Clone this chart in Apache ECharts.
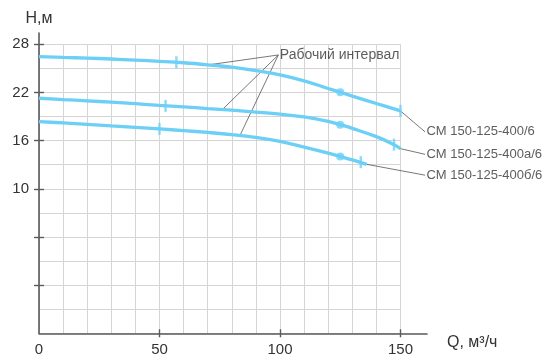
<!DOCTYPE html>
<html><head><meta charset="utf-8">
<script src="https://cdn.jsdelivr.net/npm/echarts@6/dist/echarts.min.js"></script>
<style>html,body{margin:0;padding:0;background:#fff}#c{width:555px;height:361px}</style>
</head><body><div id="c"></div><script>
// Curve data (Q, м3/ч -> H, м)
const curve1Q = [0, 10, 20, 30, 40, 50, 60, 70, 80, 90, 100, 110, 120, 125, 130, 140, 150];
const curve1H = [26.46, 26.37, 26.28, 26.17, 26.03, 25.88, 25.7, 25.45, 25.15, 24.72, 24.2, 23.45, 22.5, 22.03, 21.55, 20.62, 19.7];
const curve2Q = [0, 10, 20, 30, 40, 50, 60, 70, 80, 90, 100, 110, 120, 125, 130, 140, 147.3, 150];
const curve2H = [21.28, 21.12, 20.96, 20.79, 20.6, 20.38, 20.2, 20.0, 19.8, 19.56, 19.3, 18.95, 18.4, 17.98, 17.52, 16.5, 15.5, 15.0];
const curve3Q = [0, 10, 20, 30, 40, 50, 60, 70, 80, 90, 100, 110, 120, 125, 130, 136];
const curve3H = [18.37, 18.2, 18.02, 17.84, 17.66, 17.46, 17.25, 17.02, 16.75, 16.4, 15.9, 15.2, 14.45, 14.03, 13.6, 13.05];
const seriesNames = ['СМ 150-125-400/6', 'СМ 150-125-400а/6', 'СМ 150-125-400б/6'];
// Working interval limits (start/end)
const intervalQ = [[57, 150], [52.5, 147.3], [50, 133.5]];
const intervalH = [[25.76, 19.7], [20.33, 15.5], [17.46, 13.32]];
// Nominal points
const nominalQ = [125, 125, 125];
const nominalH = [22.03, 17.98, 14.03];
// Annotation "Рабочий интервал"
const annotationText = 'Рабочий интервал';
const annotationAnchor = [99.3, 26.67];
const annotationTargetsQ = [70.1, 76.1, 83.4];
const annotationTargetsH = [25.43, 19.88, 16.65];
// Series name labels: leader start (curve end) and label position
const leaderStartQ = [150, 150, 136];
const leaderStartH = [19.7, 15.0, 13.05];
const labelQ = [160.2, 160.2, 160.2];
const labelH = [17.1, 14.3, 11.7];
// Axes ticks/labels
const xTickLabels = [0, 50, 100, 150];
const xTicks = [50, 100, 150];
const yTickLabels = [10, 16, 22, 28];
const yTicks = [28, 22, 16, 10, 4, -2];

const FONT = 'Arial, "Liberation Sans", sans-serif';
const BLUE = '#6ccff6';
const AXIS = '#5a5a5a';
const TXT = '#333';

const curves = [[curve1Q, curve1H], [curve2Q, curve2H], [curve3Q, curve3H]];

const series = [];
curves.forEach(([q, h], i) => {
  series.push({
    type: 'line', name: seriesNames[i], xAxisIndex: 0, yAxisIndex: 0,
    data: q.map((v, k) => [v, h[k]]), smooth: 0.4, showSymbol: false, symbol: 'none',
    lineStyle: {color: BLUE, width: 3.3}, z: 3
  });
});
// interval ticks
series.push({
  type: 'scatter', xAxisIndex: 0, yAxisIndex: 0, symbol: 'rect', symbolSize: [2.4, 12],
  itemStyle: {color: BLUE}, z: 4,
  data: intervalQ.flatMap((qq, i) => qq.map((q, k) => [q, intervalH[i][k]]))
});
// nominal dots
series.push({
  type: 'scatter', xAxisIndex: 0, yAxisIndex: 0, symbol: 'circle', symbolSize: 8,
  itemStyle: {color: BLUE}, z: 4,
  data: nominalQ.map((q, i) => [q, nominalH[i]])
});
// annotation leaders
annotationTargetsQ.forEach((q, i) => {
  series.push({
    type: 'line', xAxisIndex: 0, yAxisIndex: 0, symbol: 'none', z: 2,
    lineStyle: {color: '#555', width: 0.8},
    data: [annotationAnchor, [q, annotationTargetsH[i]]]
  });
});
series.push({
  type: 'scatter', xAxisIndex: 0, yAxisIndex: 0, symbolSize: 1, z: 5,
  itemStyle: {color: 'transparent'},
  data: [{value: annotationAnchor, name: annotationText}],
  label: {show: true, position: 'right', distance: 1, formatter: '{b}', color: TXT, fontSize: 14, fontFamily: FONT}
});
// series name leaders
leaderStartQ.forEach((q, i) => {
  series.push({
    type: 'line', xAxisIndex: 1, yAxisIndex: 1, symbol: 'none', z: 2,
    lineStyle: {color: '#555', width: 0.8},
    data: [[q, leaderStartH[i]], [labelQ[i], labelH[i]]]
  });
});
series.push({
  type: 'scatter', xAxisIndex: 1, yAxisIndex: 1, symbolSize: 1, z: 5,
  itemStyle: {color: 'transparent'},
  data: labelQ.map((q, i) => ({value: [q, labelH[i]], name: seriesNames[i]})),
  label: {show: true, position: 'right', distance: 1, formatter: '{b}', color: TXT, fontSize: 13, fontFamily: FONT}
});

const option = {
  animation: false,
  backgroundColor: '#fff',
  grid: [
    {left: 39, top: 44.3, width: 361.5, height: 289},
    {left: 39, top: 33.1, width: 388, height: 300.2}
  ],
  xAxis: [
    {type: 'value', gridIndex: 0, position: 'bottom', min: 0, max: 150, interval: 10,
     axisLine: {show: false, onZero: false}, axisTick: {show: false}, axisLabel: {show: false},
     splitLine: {show: true, lineStyle: {color: '#d4d4d4', width: 1}}},
    {type: 'value', gridIndex: 1, position: 'bottom', min: 0, max: 161,
     axisLine: {show: true, onZero: false, lineStyle: {color: AXIS, width: 1.6}},
     axisTick: {show: false},
     axisLabel: {customValues: xTickLabels, color: TXT, fontSize: 15, fontFamily: FONT, margin: 9},
     splitLine: {show: false},
     name: 'Q, м³/ч', nameLocation: 'end', nameGap: 20,
     nameTextStyle: {color: TXT, fontSize: 16, fontFamily: FONT, align: 'left', verticalAlign: 'top', padding: [1, 0, 0, 0]}},
    {type: 'value', gridIndex: 1, position: 'bottom', min: 0, max: 161, offset: -4,
     axisLine: {show: false, onZero: false}, axisLabel: {show: false}, splitLine: {show: false},
     axisTick: {show: true, length: 8, customValues: xTicks, lineStyle: {color: AXIS, width: 1.4}}}
  ],
  yAxis: [
    {type: 'value', gridIndex: 0, position: 'left', min: -8, max: 28, interval: 3,
     axisLine: {show: false, onZero: false}, axisTick: {show: false}, axisLabel: {show: false},
     splitLine: {show: true, lineStyle: {color: '#d4d4d4', width: 1}}},
    {type: 'value', gridIndex: 1, position: 'left', min: -8, max: 29.4,
     axisLine: {show: true, onZero: false, lineStyle: {color: AXIS, width: 1.6}},
     axisTick: {show: false},
     axisLabel: {customValues: yTickLabels, color: TXT, fontSize: 15, fontFamily: FONT, margin: 10},
     splitLine: {show: false},
     name: 'H,м', nameLocation: 'end', nameGap: 7,
     nameTextStyle: {color: TXT, fontSize: 16, fontFamily: FONT, align: 'center'}},
    {type: 'value', gridIndex: 1, position: 'left', min: -8, max: 29.4, offset: -5,
     axisLine: {show: false, onZero: false}, axisLabel: {show: false}, splitLine: {show: false},
     axisTick: {show: true, length: 10, customValues: yTicks, lineStyle: {color: AXIS, width: 1.4}}}
  ],
  series: series
};
const chart = echarts.init(document.getElementById('c'), null, {renderer: 'canvas'});
chart.setOption(option);
</script></body></html>
